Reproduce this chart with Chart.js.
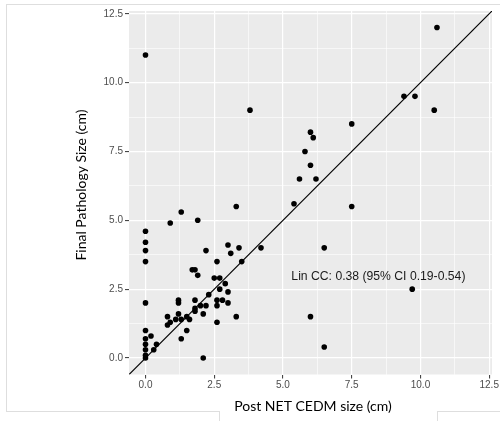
<!DOCTYPE html>
<html>
<head>
<meta charset="utf-8">
<script src="https://cdn.jsdelivr.net/npm/chart.js@4.4.1/dist/chart.umd.min.js"></script>
<style>
  body { margin: 0; background: #fff; }
  #wrap { position: relative; width: 500px; height: 421px; }
  .edge { position: absolute; background: #dedede; pointer-events: none; }
</style>
</head>
<body>
<div id="wrap">
  <canvas id="cedmChart" width="500" height="421"></canvas>
  <div class="edge" style="left:6px;top:4px;width:494px;height:1px"></div>
  <div class="edge" style="left:6px;top:4px;width:1px;height:408px"></div>
  <div class="edge" style="left:6px;top:411px;width:213px;height:1px"></div>
  <div class="edge" style="left:219px;top:411px;width:1px;height:10px"></div>
  <div class="edge" style="left:437px;top:411px;width:63px;height:1px"></div>
  <div class="edge" style="left:437px;top:411px;width:1px;height:10px"></div>
</div>
<script>
// post NET CEDM size (x) vs final pathology size (y), cm
const postCedm = [
  0, 0, 0, 0, 0, 0, 0, 0, 0, 0, 0, 0,
  0.2, 0.3, 0.4,
  0.8, 0.8, 0.9, 0.9,
  1.1, 1.2, 1.2, 1.2, 1.3, 1.3, 1.3,
  1.5, 1.5, 1.6,
  1.7, 1.8, 1.9, 1.9,
  1.8, 1.8, 1.8,
  2.0, 2.1, 2.2, 2.1, 2.2, 2.3,
  2.5, 2.7, 2.6, 2.6, 2.6, 2.6, 2.8, 2.7, 2.9,
  3.0, 3.0, 3.0, 3.1, 3.3, 3.3, 3.4, 3.5,
  3.8, 4.2,
  5.4, 5.6, 5.8, 6.0, 6.0, 6.1, 6.2, 6.0, 6.5, 6.5,
  7.5, 7.5,
  9.4, 9.8, 10.5, 10.6, 9.7
];
const finalPath = [
  11.0, 4.6, 4.2, 3.9, 3.5, 2.0, 1.0, 0.7, 0.5, 0.3, 0.1, 0.0,
  0.8, 0.3, 0.5,
  1.5, 1.2, 1.3, 4.9,
  1.4, 1.6, 2.1, 2.0, 1.4, 0.7, 5.3,
  1.5, 1.0, 1.4,
  3.2, 3.2, 3.0, 5.0,
  1.7, 1.8, 2.1,
  1.9, 1.6, 1.9, 0.0, 3.9, 2.3,
  2.9, 2.9, 3.5, 2.1, 1.9, 1.3, 2.1, 2.5, 2.7,
  2.0, 2.4, 4.1, 3.8, 1.5, 5.5, 4.0, 3.5,
  9.0, 4.0,
  5.6, 6.5, 7.5, 7.0, 8.2, 8.0, 6.5, 1.5, 4.0, 0.4,
  8.5, 5.5,
  9.5, 9.5, 9.0, 12.0, 2.5
];

const axisMin = -0.6;
const axisMax = 12.6;
const majorTicks = [0, 2.5, 5, 7.5, 10, 12.5];
const minorTicks = [1.25, 3.75, 6.25, 8.75, 11.25];
const identityLine = [axisMin, axisMax];

const linCcText = "Lin CC: 0.38 (95% CI 0.19-0.54)";
const linCcAt = [8.47, 2.94];
const xTitle = "Post NET CEDM size (cm)";
const yTitle = "Final Pathology Size (cm)";

const isMajor = (v) => majorTicks.includes(v);

function axisOptions(horizontal) {
  return {
    type: "linear",
    min: axisMin,
    max: axisMax,
    afterBuildTicks: (scale) => {
      scale.ticks = majorTicks.concat(minorTicks).sort((a, b) => a - b).map((v) => ({ value: v }));
    },
    afterFit: (scale) => {
      if (horizontal) scale.height = 46.5;
      else scale.width = 129;
    },
    ticks: {
      autoSkip: false,
      maxRotation: 0,
      padding: horizontal ? 1 : 2,
      color: "#4d4d4d",
      font: { family: "Liberation Sans", size: 10 },
      callback: (value) => (isMajor(value) ? value.toFixed(1) : ""),
    },
    grid: {
      color: "#ffffff",
      lineWidth: (ctx) => (ctx.tick && isMajor(ctx.tick.value) ? 1.2 : 0.6),
      tickColor: (ctx) => (ctx.tick && isMajor(ctx.tick.value) ? "#333333" : "rgba(0,0,0,0)"),
      tickLength: 4,
      tickWidth: 1,
    },
    border: { display: false },
  };
}

// grey panel, the Lin CC note and the axis titles
const ggPanel = {
  id: "ggPanel",
  beforeDraw(chart) {
    const { ctx, chartArea: a } = chart;
    ctx.save();
    ctx.fillStyle = "#ebebeb";
    ctx.fillRect(a.left, a.top, a.width, a.height);
    ctx.restore();
  },
  afterDraw(chart) {
    const { ctx, chartArea: a } = chart;
    const { x, y } = chart.scales;
    ctx.save();
    ctx.fillStyle = "#1a1a1a";
    ctx.font = "12.2px 'Liberation Sans'";
    ctx.textAlign = "center";
    ctx.textBaseline = "middle";
    ctx.fillText(linCcText, x.getPixelForValue(linCcAt[0]), y.getPixelForValue(linCcAt[1]));

    ctx.fillStyle = "#000";
    ctx.font = "14px Lato";
    ctx.textBaseline = "alphabetic";
    ctx.fillText(xTitle, 313, 410.5);
    ctx.translate(86, 185);
    ctx.rotate(-Math.PI / 2);
    ctx.fillText(yTitle, 0, 0);
    ctx.restore();
  },
};

new Chart(document.getElementById("cedmChart").getContext("2d"), {
  type: "scatter",
  data: {
    datasets: [
      {
        label: "y = x",
        type: "line",
        data: identityLine.map((v) => ({ x: v, y: v })),
        borderColor: "#000",
        borderWidth: 1.1,
        pointRadius: 0,
        fill: false,
      },
      {
        label: "Cases",
        data: postCedm.map((v, i) => ({ x: v, y: finalPath[i] })),
        backgroundColor: "#000",
        borderWidth: 0,
        pointRadius: 2.8,
      },
    ],
  },
  options: {
    responsive: false,
    animation: false,
    layout: { padding: { top: 11, right: 7, left: 0, bottom: 0 } },
    scales: {
      x: axisOptions(true),
      y: axisOptions(false),
    },
    plugins: {
      legend: { display: false },
      tooltip: { enabled: false },
    },
  },
  plugins: [ggPanel],
});
</script>
</body>
</html>
